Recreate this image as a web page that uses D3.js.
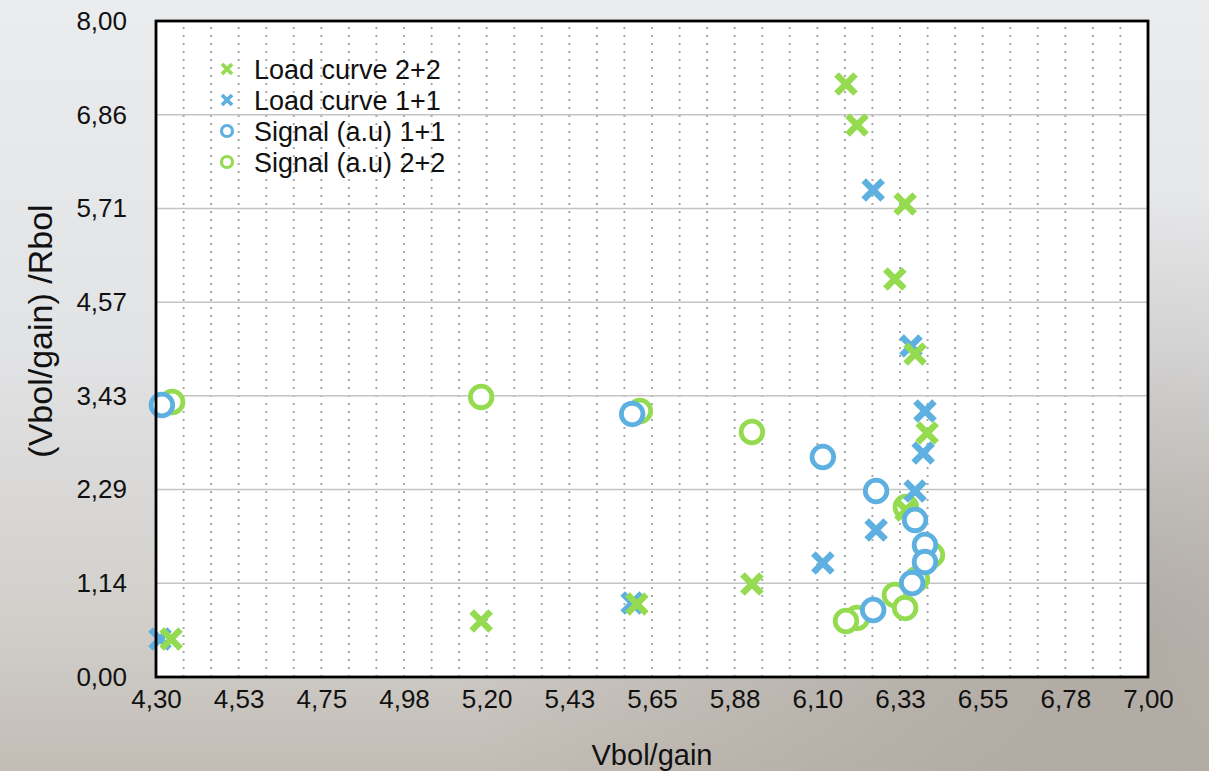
<!DOCTYPE html>
<html lang="en">
    <head>
        <meta charset="utf-8" />
        <title></title>
        <script src="https://d3js.org/d3.v7.min.js" charset="utf-8"></script>
        <style type="text/css">
            body { margin: 0; position: fixed; top: 0; right: 0; bottom: 0; left: 0; background: #e4e5e7; }
            svg { width: 1209px; height: 771px; display: block; }
            text { font-family: "Liberation Sans", Arial, Helvetica, sans-serif; fill: #111; }
        </style>
    </head>
    <body>
        <script type="text/javascript">
            // series, in legend order
            var seriesNames = ["Load curve 2+2", "Load curve 1+1", "Signal (a.u) 1+1", "Signal (a.u) 2+2"];

            var load22X = [4.341, 5.185, 5.609, 5.922, 6.341, 6.399, 6.366, 6.311, 6.339, 6.208, 6.178];
            var load22Y = [0.463, 0.683, 0.890, 1.134, 2.037, 2.976, 3.939, 4.854, 5.768, 6.732, 7.232];

            var load11X = [4.311, 5.596, 6.115, 6.260, 6.366, 6.388, 6.393, 6.355, 6.252];
            var load11Y = [0.463, 0.902, 1.390, 1.793, 2.268, 2.732, 3.244, 4.037, 5.939];

            var sig11X = [4.316, 5.596, 6.115, 6.260, 6.366, 6.393, 6.393, 6.358, 6.252];
            var sig11Y = [3.317, 3.207, 2.683, 2.268, 1.915, 1.610, 1.402, 1.146, 0.817];

            var sig22X = [4.344, 5.185, 5.617, 5.922, 6.341, 6.412, 6.371, 6.311, 6.339, 6.208, 6.178];
            var sig22Y = [3.354, 3.415, 3.244, 2.988, 2.073, 1.488, 1.195, 1.000, 0.841, 0.720, 0.683];

            var xTicks = d3.range(13).map(function (i) { return 4.3 + i * 0.225; });
            var yTicks = d3.range(8).map(function (i) { return i * 8 / 7; });

            var green = "#94db50", blue = "#5db0e0";
            var W = 1209, H = 771;
            var pL = 156, pR = 1148, pT = 21, pB = 677;

            var fmt = function (v) { return (Math.round(v * 100 + 1e-6) / 100).toFixed(2).replace(".", ","); };

            var svg = d3.select("body").append("svg")
                .attr("width", W).attr("height", H);

            // photo-ish backdrop
            var defs = svg.append("defs");
            var lg = defs.append("linearGradient").attr("id", "bg").attr("x1", 0).attr("y1", 0).attr("x2", 0).attr("y2", 1);
            lg.append("stop").attr("offset", "0").attr("stop-color", "#ebecee");
            lg.append("stop").attr("offset", "0.45").attr("stop-color", "#e2e3e5");
            lg.append("stop").attr("offset", "0.8").attr("stop-color", "#d2cfcb");
            lg.append("stop").attr("offset", "1").attr("stop-color", "#c2bcb5");
            var rg = defs.append("radialGradient").attr("id", "rock").attr("cx", 0.92).attr("cy", 0.8).attr("r", 0.55);
            rg.append("stop").attr("offset", "0").attr("stop-color", "#8f877e").attr("stop-opacity", 0.5);
            rg.append("stop").attr("offset", "1").attr("stop-color", "#8f877e").attr("stop-opacity", 0);
            svg.append("rect").attr("width", W).attr("height", H).attr("fill", "url(#bg)");
            svg.append("rect").attr("width", W).attr("height", H).attr("fill", "url(#rock)");

            var x = d3.scaleLinear().domain([4.3, 7.0]).range([pL, pR]);
            var y = d3.scaleLinear().domain([0, 8]).range([pB, pT]);

            svg.append("rect")
                .attr("x", pL).attr("y", pT)
                .attr("width", pR - pL).attr("height", pB - pT)
                .attr("fill", "#fff");

            // dotted minor verticals
            var minorX = d3.range(1, 36).map(function (i) { return 4.3 + i * 0.075; });
            svg.append("g").selectAll("line")
                .data(minorX).enter().append("line")
                .attr("x1", function (d) { return x(d); })
                .attr("x2", function (d) { return x(d); })
                .attr("y1", pT + 6).attr("y2", pB)
                .attr("stroke", "#a8a8a8")
                .attr("stroke-width", 2)
                .attr("stroke-dasharray", "2,6");

            // solid horizontal grid
            svg.append("g").selectAll("line")
                .data(yTicks.slice(1)).enter().append("line")
                .attr("x1", pL).attr("x2", pR)
                .attr("y1", function (d) { return y(d); })
                .attr("y2", function (d) { return y(d); })
                .attr("stroke", "#c4c4c4")
                .attr("stroke-width", 1.5);

            // axes (labels only, frame drawn below)
            var xAxis = svg.append("g")
                .attr("transform", "translate(0," + pB + ")")
                .call(d3.axisBottom(x).tickValues(xTicks).tickFormat(fmt).tickSize(0).tickPadding(13));
            var yAxis = svg.append("g")
                .attr("transform", "translate(" + pL + ",0)")
                .call(d3.axisLeft(y).tickValues(yTicks).tickFormat(fmt).tickSize(0).tickPadding(29));
            [xAxis, yAxis].forEach(function (a) {
                a.select(".domain").remove();
                a.selectAll("text").attr("font-size", 26).attr("fill", "#111");
            });

            svg.append("text")
                .attr("x", 652).attr("y", 765)
                .attr("text-anchor", "middle")
                .attr("font-size", 29)
                .text("Vbol/gain");
            svg.append("text")
                .attr("transform", "translate(52,331) rotate(-90)")
                .attr("text-anchor", "middle")
                .attr("font-size", 34)
                .text("(Vbol/gain) /Rbol");

            // markers
            function cross(g, xs, ys, color, half, sw) {
                var pts = xs.map(function (v, i) { return [v, ys[i]]; });
                g.selectAll(null).data(pts).enter().append("path")
                    .attr("d", function (d) {
                        var cx = x(d[0]), cy = y(d[1]);
                        return "M" + (cx - half) + "," + (cy - half) + "L" + (cx + half) + "," + (cy + half) +
                               "M" + (cx - half) + "," + (cy + half) + "L" + (cx + half) + "," + (cy - half);
                    })
                    .attr("stroke", color).attr("stroke-width", sw).attr("fill", "none");
            }
            function ring(g, xs, ys, color, r, sw) {
                var pts = xs.map(function (v, i) { return [v, ys[i]]; });
                g.selectAll(null).data(pts).enter().append("circle")
                    .attr("cx", function (d) { return x(d[0]); })
                    .attr("cy", function (d) { return y(d[1]); })
                    .attr("r", r)
                    .attr("fill", "#fff")
                    .attr("stroke", color).attr("stroke-width", sw);
            }

            var marks = svg.append("g");
            ring(marks, sig22X, sig22Y, green, 10.8, 4.8);
            cross(marks, load11X, load11Y, blue, 9.5, 6.5);
            cross(marks, load22X, load22Y, green, 9.5, 6.5);
            ring(marks, sig11X, sig11Y, blue, 10.8, 4.8);

            // frame
            svg.append("rect")
                .attr("x", pL).attr("y", pT)
                .attr("width", pR - pL).attr("height", pB - pT)
                .attr("fill", "none").attr("stroke", "#000").attr("stroke-width", 2.8);

            // legend
            var legendColors = [green, blue, blue, green];
            var legendKind = ["x", "x", "o", "o"];
            var lgd = svg.append("g");
            seriesNames.forEach(function (name, i) {
                var cy = 69 + i * 31, cx = 227;
                if (legendKind[i] === "x") {
                    lgd.append("path")
                        .attr("d", "M" + (cx - 5) + "," + (cy - 5) + "L" + (cx + 5) + "," + (cy + 5) +
                                   "M" + (cx - 5) + "," + (cy + 5) + "L" + (cx + 5) + "," + (cy - 5))
                        .attr("stroke", legendColors[i]).attr("stroke-width", 3.8);
                } else {
                    lgd.append("circle").attr("cx", cx).attr("cy", cy).attr("r", 5.5)
                        .attr("fill", "#fff").attr("stroke", legendColors[i]).attr("stroke-width", 3.2);
                }
                lgd.append("text")
                    .attr("x", 254).attr("y", cy + 10)
                    .attr("font-size", 27)
                    .text(name);
            });
        </script>
    </body>
</html>
